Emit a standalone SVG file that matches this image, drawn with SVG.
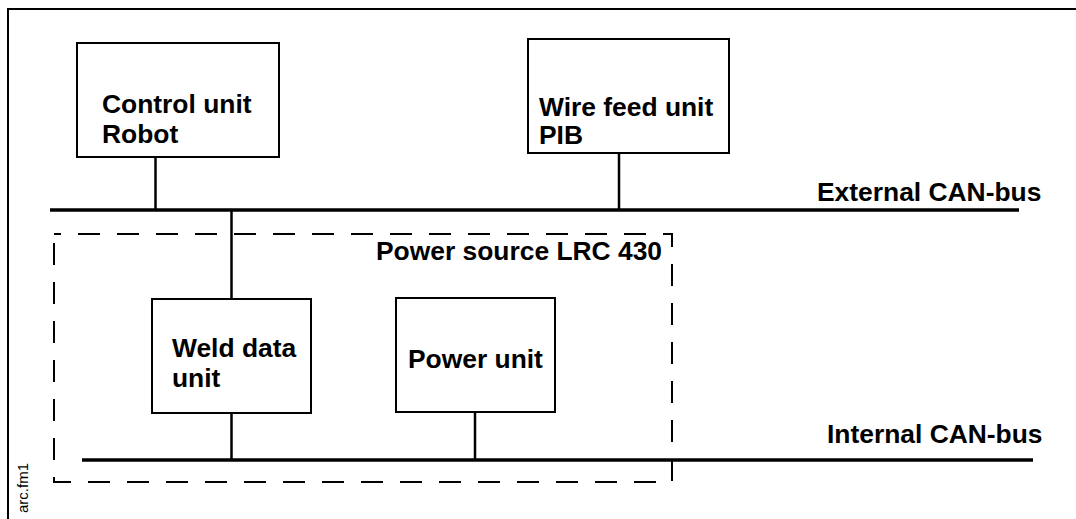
<svg xmlns="http://www.w3.org/2000/svg" width="1076" height="519" viewBox="0 0 1076 519">
  <style>
    .box { fill: #ffffff; stroke: #000000; stroke-width: 2; }
    .bus { stroke: #000000; stroke-width: 3.5; fill: none; }
    .link { stroke: #000000; stroke-width: 2.5; fill: none; }
    .frame { stroke: #000000; stroke-width: 2; fill: none; }
    .dash { stroke: #000000; stroke-width: 2; fill: none; stroke-dasharray: 22 17; }
    .lbl { font-family: "Liberation Sans", Arial, Helvetica, sans-serif; font-weight: bold; font-size: 26.4px; fill: #000000; }
    .small { font-family: "Liberation Sans", Arial, Helvetica, sans-serif; font-size: 15px; fill: #000000; }
  </style>
  <rect x="0" y="0" width="1076" height="519" fill="#ffffff"/>
  <g id="frame">
    <path class="frame" d="M8,519 V9 H1076"/>
    <text class="small" transform="translate(28,513) rotate(-90)">arc.fm1</text>
  </g>
  <g id="power-source">
    <rect class="dash" x="54" y="234" width="618" height="248" stroke-dashoffset="15"/>
    <text class="lbl" x="662" y="260" text-anchor="end">Power source LRC 430</text>
  </g>
  <g id="connectors">
    <line class="bus" x1="50" y1="210" x2="1019" y2="210"/>
    <line class="bus" x1="82" y1="460" x2="1033" y2="460"/>
    <line class="link" x1="155.5" y1="157" x2="155.5" y2="210"/>
    <line class="link" x1="619" y1="153" x2="619" y2="210"/>
    <line class="link" x1="231.5" y1="210" x2="231.5" y2="299"/>
    <line class="link" x1="231.5" y1="413" x2="231.5" y2="460"/>
    <line class="link" x1="475" y1="412" x2="475" y2="460"/>
  </g>
  <g id="external-bus-label">
    <text class="lbl" x="817" y="201">External CAN-bus</text>
  </g>
  <g id="internal-bus-label">
    <text class="lbl" x="827" y="443">Internal CAN-bus</text>
  </g>
  <g id="control-unit">
    <rect class="box" x="77" y="43" width="202" height="114"/>
    <text class="lbl" x="102" y="113">Control unit</text>
    <text class="lbl" x="102" y="143">Robot</text>
  </g>
  <g id="wire-feed-unit">
    <rect class="box" x="528" y="39" width="201" height="114"/>
    <text class="lbl" x="539" y="116">Wire feed unit</text>
    <text class="lbl" x="539" y="144">PIB</text>
  </g>
  <g id="weld-data-unit">
    <rect class="box" x="152" y="299" width="159" height="114"/>
    <text class="lbl" x="172" y="357">Weld data</text>
    <text class="lbl" x="172" y="387">unit</text>
  </g>
  <g id="power-unit">
    <rect class="box" x="396" y="298" width="159" height="114"/>
    <text class="lbl" x="408" y="368">Power unit</text>
  </g>
</svg>
